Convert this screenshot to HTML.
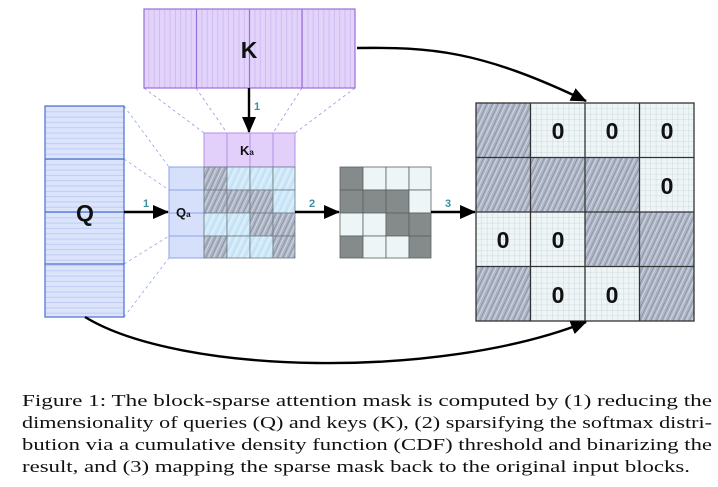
<!DOCTYPE html>
<html><head><meta charset="utf-8"><style>
html,body{margin:0;padding:0;background:#fff;width:718px;height:487px;overflow:hidden}
svg{display:block}
</style></head><body>
<svg width="718" height="487" viewBox="0 0 718 487" xmlns="http://www.w3.org/2000/svg">
<defs>
<pattern id="kv" width="5.3" height="10" patternUnits="userSpaceOnUse"><rect width="5.3" height="10" fill="#e2d3fa"/><line x1="0.5" y1="0" x2="0.5" y2="10" stroke="#c9b2ef" stroke-width="0.7"/></pattern>
<pattern id="qh" width="10" height="5.3" patternUnits="userSpaceOnUse"><rect width="10" height="5.3" fill="#dbe4fb"/><line x1="0" y1="0.5" x2="10" y2="0.5" stroke="#b3c4f0" stroke-width="0.7"/></pattern>
<pattern id="hd" width="5" height="5" patternUnits="userSpaceOnUse" patternTransform="rotate(25)"><rect width="5" height="5" fill="#aeb6c6"/><line x1="0" y1="0" x2="0" y2="5" stroke="#7d869c" stroke-width="1.3"/><line x1="2.5" y1="0" x2="2.5" y2="5" stroke="#dfe3ea" stroke-width="0.7"/></pattern>
<pattern id="hl" width="6" height="6" patternUnits="userSpaceOnUse" patternTransform="rotate(25)"><rect width="6" height="6" fill="#cfe8f8"/><line x1="0" y1="0" x2="0" y2="6" stroke="#b0d6f2" stroke-width="1.2"/><line x1="3" y1="0" x2="3" y2="6" stroke="#e8f5fd" stroke-width="0.8"/></pattern>
<pattern id="gl" width="5.45" height="5.45" patternUnits="userSpaceOnUse" x="476" y="103"><rect width="5.45" height="5.45" fill="#eef5f7"/><path d="M0 0H5.45M0 0V5.45" stroke="#b9c4c8" stroke-width="0.6"/></pattern>
<marker id="ah2" markerWidth="16" markerHeight="14" refX="15" refY="7" orient="auto" markerUnits="userSpaceOnUse"><path d="M0 0L16 7L0 14z" fill="#000"/></marker>
</defs>

<g stroke="#a98fe0" stroke-width="0.8" stroke-dasharray="3,3" fill="none">
<line x1="144" y1="88" x2="204" y2="133"/><line x1="196" y1="88" x2="227" y2="133"/>
<line x1="302" y1="88" x2="273" y2="133"/><line x1="355" y1="88" x2="295" y2="133"/>
</g>
<g stroke="#92a8e6" stroke-width="0.8" stroke-dasharray="3,3" fill="none">
<line x1="124" y1="106" x2="169" y2="167"/><line x1="124" y1="159" x2="169" y2="190"/>
<line x1="124" y1="264" x2="169" y2="236"/><line x1="124" y1="317" x2="169" y2="258"/>
</g>

<rect x="144" y="9" width="211" height="79" fill="url(#kv)" stroke="#9a6fd8" stroke-width="1.2"/>
<g stroke="#9a6fd8" stroke-width="1.2"><line x1="196.5" y1="9" x2="196.5" y2="88"/><line x1="249.5" y1="9" x2="249.5" y2="88"/><line x1="302" y1="9" x2="302" y2="88"/></g>
<text x="249" y="58" text-anchor="middle" font-family="Liberation Sans, sans-serif" font-weight="bold" font-size="23" fill="#111">K</text>

<rect x="45" y="106" width="79" height="211" fill="url(#qh)" stroke="#4a6fd0" stroke-width="1.2"/>
<g stroke="#4a6fd0" stroke-width="1.2"><line x1="45" y1="159" x2="124" y2="159"/><line x1="45" y1="212" x2="124" y2="212"/><line x1="45" y1="264" x2="124" y2="264"/></g>
<text x="85" y="221" text-anchor="middle" font-family="Liberation Sans, sans-serif" font-weight="bold" font-size="23" fill="#111">Q</text>

<rect x="204" y="133" width="91" height="34" fill="#e2d0fa" stroke="#b48fe8" stroke-width="1"/>
<g stroke="#b48fe8"><line x1="227" y1="133" x2="227" y2="167"/><line x1="250" y1="133" x2="250" y2="167"/><line x1="273" y1="133" x2="273" y2="167"/></g>
<text x="240" y="155" font-family="Liberation Sans, sans-serif" font-weight="bold" font-size="13" fill="#111">K<tspan font-size="8">a</tspan></text>

<rect x="169" y="167" width="35" height="91" fill="#d7e0fb" stroke="#8aa2e8" stroke-width="1"/>
<g stroke="#8aa2e8"><line x1="169" y1="190" x2="204" y2="190"/><line x1="169" y1="213" x2="204" y2="213"/><line x1="169" y1="236" x2="204" y2="236"/></g>
<text x="176" y="217" font-family="Liberation Sans, sans-serif" font-weight="bold" font-size="13" fill="#111">Q<tspan font-size="8">a</tspan></text>

<g stroke="#6c7a80" stroke-width="0.8">
<rect x="204" y="167" width="23" height="23" fill="url(#hd)"/><rect x="227" y="167" width="23" height="23" fill="url(#hl)"/><rect x="250" y="167" width="23" height="23" fill="url(#hl)"/><rect x="273" y="167" width="22" height="23" fill="url(#hl)"/>
<rect x="204" y="190" width="23" height="23" fill="url(#hd)"/><rect x="227" y="190" width="23" height="23" fill="url(#hd)"/><rect x="250" y="190" width="23" height="23" fill="url(#hd)"/><rect x="273" y="190" width="22" height="23" fill="url(#hl)"/>
<rect x="204" y="213" width="23" height="23" fill="url(#hl)"/><rect x="227" y="213" width="23" height="23" fill="url(#hl)"/><rect x="250" y="213" width="23" height="23" fill="url(#hd)"/><rect x="273" y="213" width="22" height="23" fill="url(#hd)"/>
<rect x="204" y="236" width="23" height="22" fill="url(#hd)"/><rect x="227" y="236" width="23" height="22" fill="url(#hl)"/><rect x="250" y="236" width="23" height="22" fill="url(#hl)"/><rect x="273" y="236" width="22" height="22" fill="url(#hd)"/>
</g>

<g stroke="#5a6263" stroke-width="0.8">
<rect x="340" y="167" width="23" height="23" fill="#858b8b"/><rect x="363" y="167" width="23" height="23" fill="#edf5f7"/><rect x="386" y="167" width="23" height="23" fill="#edf5f7"/><rect x="409" y="167" width="22" height="23" fill="#edf5f7"/>
<rect x="340" y="190" width="23" height="23" fill="#858b8b"/><rect x="363" y="190" width="23" height="23" fill="#858b8b"/><rect x="386" y="190" width="23" height="23" fill="#858b8b"/><rect x="409" y="190" width="22" height="23" fill="#edf5f7"/>
<rect x="340" y="213" width="23" height="23" fill="#edf5f7"/><rect x="363" y="213" width="23" height="23" fill="#edf5f7"/><rect x="386" y="213" width="23" height="23" fill="#858b8b"/><rect x="409" y="213" width="22" height="23" fill="#858b8b"/>
<rect x="340" y="236" width="23" height="22" fill="#858b8b"/><rect x="363" y="236" width="23" height="22" fill="#edf5f7"/><rect x="386" y="236" width="23" height="22" fill="#edf5f7"/><rect x="409" y="236" width="22" height="22" fill="#858b8b"/>
</g>

<rect x="476" y="103" width="218" height="218" fill="url(#gl)"/>
<g>
<rect x="476" y="103" width="54.5" height="54.5" fill="url(#hd)"/>
<rect x="476" y="157.5" width="54.5" height="54.5" fill="url(#hd)"/><rect x="530.5" y="157.5" width="54.5" height="54.5" fill="url(#hd)"/><rect x="585" y="157.5" width="54.5" height="54.5" fill="url(#hd)"/>
<rect x="585" y="212" width="54.5" height="54.5" fill="url(#hd)"/><rect x="639.5" y="212" width="54.5" height="54.5" fill="url(#hd)"/>
<rect x="476" y="266.5" width="54.5" height="54.5" fill="url(#hd)"/><rect x="639.5" y="266.5" width="54.5" height="54.5" fill="url(#hd)"/>
</g>
<g stroke="#333" stroke-width="1.3" fill="none">
<rect x="476" y="103" width="218" height="218"/>
<line x1="530.5" y1="103" x2="530.5" y2="321"/><line x1="585" y1="103" x2="585" y2="321"/><line x1="639.5" y1="103" x2="639.5" y2="321"/>
<line x1="476" y1="157.5" x2="694" y2="157.5"/><line x1="476" y1="212" x2="694" y2="212"/><line x1="476" y1="266.5" x2="694" y2="266.5"/>
</g>
<g font-family="Liberation Sans, sans-serif" font-weight="bold" font-size="23" fill="#111" text-anchor="middle">
<text x="558" y="139">0</text><text x="612" y="139">0</text><text x="667" y="139">0</text>
<text x="667" y="194">0</text>
<text x="503" y="248">0</text><text x="558" y="248">0</text>
<text x="558" y="303">0</text><text x="612" y="303">0</text>
</g>

<g stroke="#000" stroke-width="2.4" fill="none">
<line x1="249" y1="88" x2="249" y2="132" marker-end="url(#ah2)"/>
<line x1="124" y1="212" x2="168" y2="212" marker-end="url(#ah2)"/>
<line x1="295" y1="212" x2="339" y2="212" marker-end="url(#ah2)"/>
<line x1="431" y1="212" x2="475" y2="212" marker-end="url(#ah2)"/>
<path d="M357 48 C430 47 480 50 586 101" marker-end="url(#ah2)"/>
<path d="M85 317 C180 375 440 380 586 322" marker-end="url(#ah2)"/>
</g>
<g font-family="Liberation Sans, sans-serif" font-weight="bold" font-size="11" fill="#3b8fa0">
<text x="254" y="110">1</text><text x="143" y="207">1</text><text x="309" y="207">2</text><text x="445" y="207">3</text>
</g>

<g font-family="Liberation Serif, serif" font-size="17" fill="#111">
<text x="22" y="406" textLength="690" lengthAdjust="spacingAndGlyphs">Figure 1:  The block-sparse attention mask is computed by (1) reducing the</text>
<text x="22" y="428" textLength="690" lengthAdjust="spacingAndGlyphs">dimensionality of queries (Q) and keys (K), (2) sparsifying the softmax distri-</text>
<text x="22" y="450" textLength="690" lengthAdjust="spacingAndGlyphs">bution via a cumulative density function (CDF) threshold and binarizing the</text>
<text x="22" y="472" textLength="668" lengthAdjust="spacingAndGlyphs">result, and (3) mapping the sparse mask back to the original input blocks.</text>
</g>
</svg>
</body></html>
